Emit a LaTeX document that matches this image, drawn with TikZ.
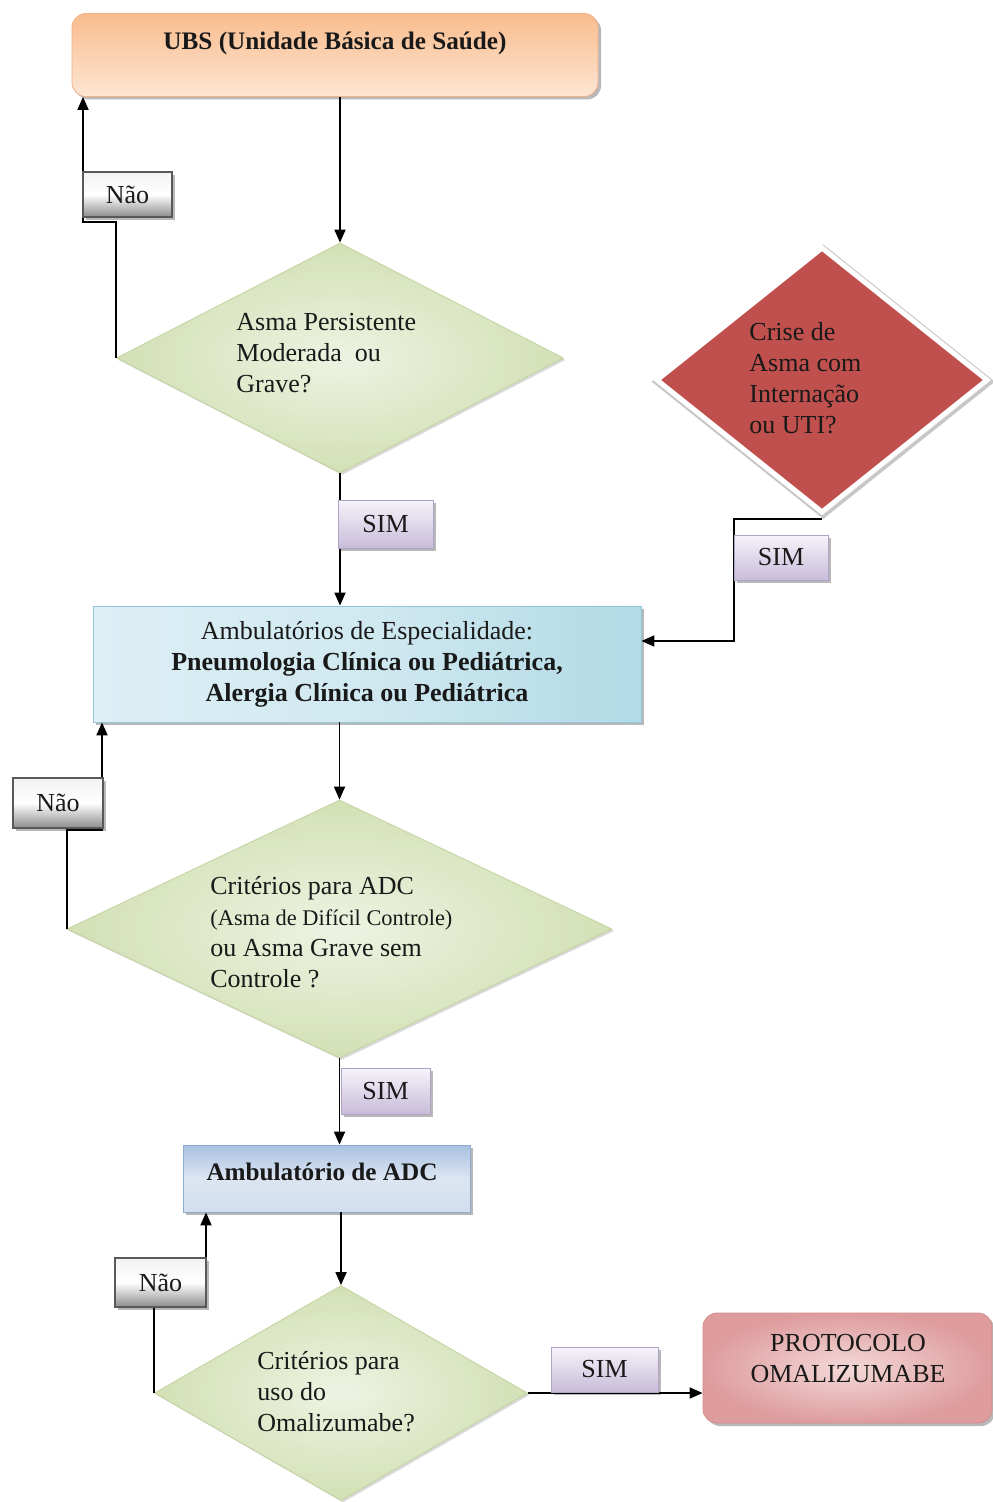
\documentclass[tikz,border=0pt]{standalone}
\usepackage{fontspec}
\setmainfont{Liberation Serif}
\usetikzlibrary{shapes.geometric,arrows.meta,shadows}
\definecolor{ubsA}{HTML}{F9BC8C}
\definecolor{ubsB}{HTML}{FDE6D4}
\definecolor{ubsD}{HTML}{F2B08A}
\definecolor{grA}{HTML}{EDF3E2}
\definecolor{grB}{HTML}{D3E0B5}
\definecolor{grD}{HTML}{C3D39F}
\definecolor{redF}{HTML}{C0504D}
\definecolor{blA}{HTML}{B2DAE6}
\definecolor{blB}{HTML}{DDEFF5}
\definecolor{blD}{HTML}{93C6D6}
\definecolor{adA}{HTML}{A9C1E1}
\definecolor{adB}{HTML}{DCE6F2}
\definecolor{adD}{HTML}{8EABD2}
\definecolor{prA}{HTML}{F4D9D9}
\definecolor{prB}{HTML}{DE9C9D}
\definecolor{prD}{HTML}{D38C8C}
\definecolor{smA}{HTML}{F6F3FA}
\definecolor{smB}{HTML}{C8BDDA}
\definecolor{smD}{HTML}{B0A3C6}
\definecolor{naA}{HTML}{F2F2F2}
\definecolor{naB}{HTML}{8C8C8C}
\definecolor{naD}{HTML}{595959}
\begin{document}
\begin{tikzpicture}[x=0.5pt,y=-0.5pt,
  txt/.style={font=\fontsize{13}{15.5}\selectfont, inner sep=0pt, text=black!90},
  conn/.style={line width=0.9pt, draw=black},
  arr/.style={conn, -{Triangle[length=6.5pt,width=5.5pt]}},
  shad/.style={drop shadow={shadow xshift=1.5pt,shadow yshift=-1.5pt,fill=black,opacity=0.28}},
  lshad/.style={drop shadow={shadow xshift=1pt,shadow yshift=-1pt,fill=black,opacity=0.15}},
  rshad/.style={drop shadow={shadow scale=1.04,shadow xshift=0.6pt,shadow yshift=-0.8pt,fill=black,opacity=0.22}},
  gdia/.style={diamond, inner sep=0pt, draw=grD, line width=0.4pt, inner color=grA, outer color=grB, lshad},
  rdia/.style={diamond, inner sep=0pt, fill=redF, draw=white, line width=2.5pt, rshad},
  boxbase/.style={rectangle, inner sep=0pt, line width=0.4pt, shad},
  simlab/.style={boxbase, txt, top color=smA, bottom color=smB, draw=smD},
  naolab/.style={boxbase, txt, top color=naA, bottom color=naB, middle color=white, draw=naD, line width=1pt},
]
\useasboundingbox (0,0) rectangle (992,1502);
\fill[white] (0,0) rectangle (992,1502);

% main shapes
\node[boxbase, rounded corners=7pt, top color=ubsA, bottom color=ubsB, draw=ubsD,
      minimum width=263pt, minimum height=41.5pt] (ubs) at (335,55) {};
\node[txt, font=\fontsize{12.6}{15.5}\selectfont\bfseries] (ubst) at (335,43) {UBS (Unidade Básica de Saúde)};

\node[gdia, minimum width=223.5pt, minimum height=115pt] (d1) at (340,358) {};
\node[txt, anchor=west, align=left] (d1t) at (236,353) {Asma Persistente\\Moderada\ \ ou\\Grave?};

\node[rdia, minimum width=166pt, minimum height=133pt] (d0) at (822,380) {};
\node[txt, anchor=west, align=left] (d0t) at (749,378) {Crise de\\Asma com\\Internação\\ou UTI?};

\node[boxbase, left color=blB, right color=blA, middle color=blB!70!blA, draw=blD,
      minimum width=274pt, minimum height=58pt, txt, align=center] (blue) at (367,664)
  {Ambulatórios de Especialidade:\\\textbf{Pneumologia Clínica ou Pediátrica,}\\\textbf{Alergia Clínica ou Pediátrica}};

\node[gdia, minimum width=272.5pt, minimum height=129pt] (d2) at (339.5,929) {};
\node[txt, anchor=west, align=left] (d2t) at (210,932)
  {Critérios para ADC\\{\fontsize{11.2}{15.5}\selectfont(Asma de Difícil Controle)}\\ou Asma Grave sem\\Controle ?};

\node[boxbase, top color=adA, bottom color=adB!80!adA, middle color=adB, draw=adD,
      minimum width=143.5pt, minimum height=33.5pt] (adc) at (326.5,1178.5) {};
\node[txt, font=\fontsize{12.6}{15.5}\selectfont\bfseries] (adct) at (322,1172) {Ambulatório de ADC};

\node[gdia, minimum width=186.5pt, minimum height=107.5pt] (d3) at (341,1393) {};
\node[txt, anchor=west, align=left] (d3t) at (257,1392) {Critérios para\\uso do\\Omalizumabe?};

\node[boxbase, rounded corners=7pt, inner color=prA, outer color=prB, draw=prD,
      minimum width=144.5pt, minimum height=55pt] (prot) at (847.5,1368) {};
\node[txt, align=center] (prott) at (848,1359) {PROTOCOLO\\OMALIZUMABE};

% coordinates for bends
\coordinate (c1) at (83,222);
\coordinate (c2) at (734,519);
\coordinate (c3) at (734,641);
\coordinate (c4) at (102,830);
\coordinate (c5) at (206,1300);

% connectors
\draw[arr] (ubs.south -| d1.north) -- (d1.north);
\draw[arr] (d1.west) |- (c1) -- (c1 |- ubs.south);
\draw[arr] (d1.south) -- (d1.south |- blue.north);
\draw[arr] (c2 -| d0.south) -- (c2) -- (c3) -- (c3 -| blue.east);
\draw[arr] (d2.north |- blue.south) -- (d2.north);
\draw[arr] (d2.west) |- (c4) -- (c4 |- blue.south);
\draw[arr] (d2.south) -- (d2.south |- adc.north);
\draw[arr] (d3.north |- adc.south) -- (d3.north);
\draw[arr] (d3.west) |- (c5) -- (c5 |- adc.south);
\draw[arr] (d3.east) -- (d3.east -| prot.west);

% labels
\node[naolab, minimum width=44.5pt, minimum height=22.5pt] (n1) at (127.5,194.5) {Não};
\node[simlab, minimum width=47.5pt, minimum height=24pt] (s1) at (385.5,524) {SIM};
\node[simlab, minimum width=47pt, minimum height=22.5pt] (s0) at (781,557.5) {SIM};
\node[naolab, minimum width=45pt, minimum height=25pt] (n2) at (58,803) {Não};
\node[simlab, minimum width=44.5pt, minimum height=23pt] (s2) at (385.5,1091) {SIM};
\node[naolab, minimum width=45.5pt, minimum height=24.5pt] (n3) at (160.5,1282.5) {Não};
\node[simlab, minimum width=53.5pt, minimum height=22.5pt] (s3) at (604.5,1369.5) {SIM};
\end{tikzpicture}
\end{document}
